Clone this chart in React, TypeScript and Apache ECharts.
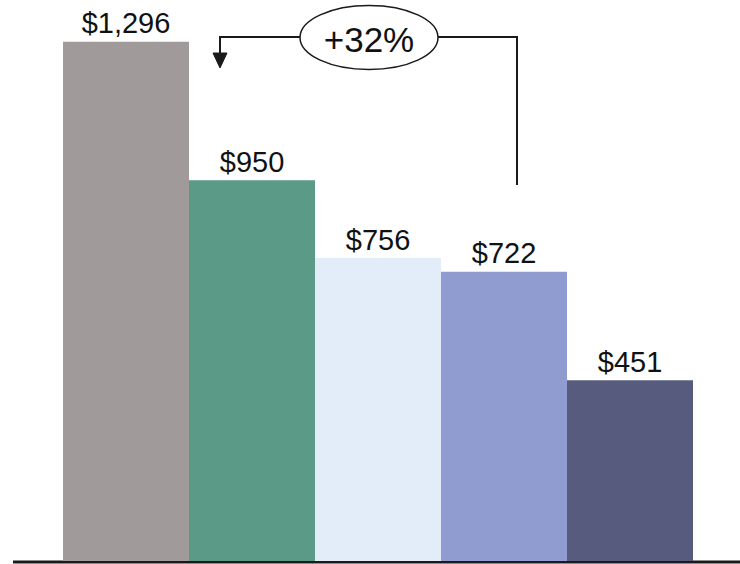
import React, { useEffect, useRef } from "react";
import * as echarts from "echarts";

const categories = ["A", "B", "C", "D", "E"];
const values = [1296, 950, 756, 722, 451];
const barColors = ["#a09a9b", "#5a9a87", "#e3edf9", "#909bd0", "#575c7f"];
const changeLabel = "+32%";

export default function App() {
  const ref = useRef<HTMLDivElement>(null);

  useEffect(() => {
    if (!ref.current) return;
    const chart = echarts.init(ref.current, null, { renderer: "svg" });
    const font = "Arial, 'Liberation Sans', sans-serif";
    chart.setOption({
      animation: false,
      backgroundColor: "#ffffff",
      grid: { left: 63, right: 47, top: 0, bottom: 3 },
      xAxis: {
        type: "category",
        data: categories,
        axisLine: { show: false },
        axisTick: { show: false },
        axisLabel: { show: false },
      },
      yAxis: {
        type: "value",
        min: 0,
        max: 1400,
        show: false,
        splitLine: { show: false },
      },
      series: [
        {
          type: "bar",
          barCategoryGap: 0,
          data: values.map((v, i) => ({ value: v, itemStyle: { color: barColors[i] } })),
          label: {
            show: true,
            position: "top",
            distance: 4,
            fontFamily: font,
            fontSize: 29,
            color: "#111111",
            formatter: (p: any) => "$" + Number(p.value).toLocaleString("en-US"),
          },
        },
      ],
    });

    const baseY = chart.convertToPixel({ yAxisIndex: 0 }, 0) as number;
    const lineColor = "#1a1a1a";
    chart.setOption({
      graphic: [
        {
          type: "line",
          shape: { x1: 13, y1: baseY + 1, x2: 740, y2: baseY + 1 },
          style: { stroke: lineColor, lineWidth: 3 },
        },
        {
          type: "polyline",
          shape: { points: [[517, 185], [517, 37], [220, 37], [220, 55]] },
          style: { stroke: lineColor, lineWidth: 2, fill: "none" },
        },
        {
          type: "polygon",
          shape: { points: [[213, 53], [227, 53], [220, 68]] },
          style: { fill: lineColor, stroke: lineColor, lineWidth: 1 },
        },
        {
          type: "ellipse",
          shape: { cx: 369, cy: 37.5, rx: 69, ry: 32 },
          style: { fill: "#ffffff", stroke: lineColor, lineWidth: 1.5 },
        },
        {
          type: "text",
          x: 369,
          y: 39,
          style: {
            text: changeLabel,
            fontFamily: font,
            fontSize: 35,
            fill: "#111111",
            align: "center",
            verticalAlign: "middle",
          },
        },
      ],
    });

    return () => chart.dispose();
  }, []);

  return (
    <div
      ref={ref}
      style={{ position: "fixed", left: 0, top: 0, width: 740, height: 564 }}
    />
  );
}
